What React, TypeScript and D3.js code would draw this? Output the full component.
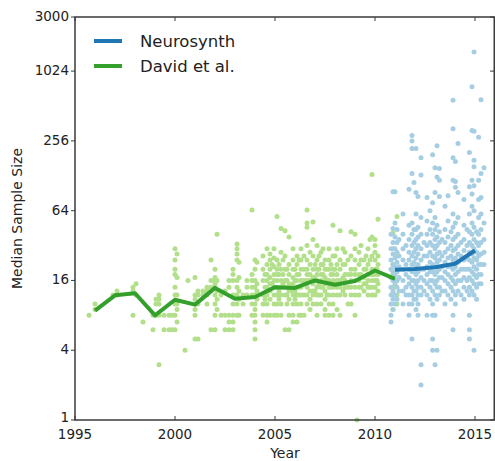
import React from "react";
import * as d3 from "d3";

// Median lines
const davidYears = [1996, 1997, 1998, 1999, 2000, 2001, 2002, 2003, 2004, 2005, 2006, 2007, 2008, 2009, 2010, 2011];
const davidMedians = [8.8, 11.9, 12.4, 8, 10.9, 9.9, 13.8, 11.1, 11.5, 14, 13.8, 16, 14.7, 15.8, 19.5, 16.5];
const neurosynthYears = [2011, 2012, 2013, 2014, 2015];
const neurosynthMedians = [19.8, 20.1, 20.8, 22.3, 29];

// Scatter: [publication time, sample sizes at that time]
const davidColumns: [number, number[]][] = [
  [1995.7, [8]],
  [1996.0, [10, 9]],
  [1996.9, [12]],
  [1997.1, [13, 12]],
  [1997.9, [8, 14, 13]],
  [1998.05, [15, 12]],
  [1998.4, [7]],
  [1998.9, [8, 6]],
  [1999.05, [8, 11, 10]],
  [1999.2, [3, 8, 10, 11, 12]],
  [1999.45, [6, 8]],
  [1999.7, [6, 8]],
  [1999.85, [6, 8]],
  [2000.0, [30, 24, 20, 18, 14, 12, 10, 8, 6]],
  [2000.1, [27, 17, 12, 10, 7, 9]],
  [2000.5, [4]],
  [2000.65, [16]],
  [2001.0, [17, 12, 11, 10, 9, 8, 5]],
  [2001.15, [12, 13, 10, 5]],
  [2001.4, [13, 12]],
  [2001.6, [14, 13, 12, 10]],
  [2001.8, [24, 16, 14, 6]],
  [2002.0, [20, 17, 16, 15, 14, 12, 10, 8, 6]],
  [2002.1, [40, 16, 13, 11, 9]],
  [2002.3, [8, 12]],
  [2002.5, [8, 6, 13]],
  [2002.7, [16, 14, 8, 7, 6]],
  [2002.9, [20, 18, 16, 12, 10, 8, 7, 6]],
  [2003.1, [33, 30, 27, 24, 16, 14, 12, 10, 8]],
  [2003.2, [23, 17, 13, 11, 8]],
  [2003.4, [12, 10]],
  [2003.6, [16, 14, 12]],
  [2003.85, [65, 18, 16, 14, 12, 10, 8]],
  [2004.0, [24, 20, 16, 14, 12, 10, 9, 8, 7, 6, 5]],
  [2004.1, [23, 15, 13, 11]],
  [2004.4, [26, 20, 16, 12, 10, 8]],
  [2004.5, [18, 14, 11]],
  [2004.6, [30, 22, 18, 16, 14, 12, 10, 8, 7]],
  [2004.75, [27, 24, 20, 17, 15, 13, 11, 8]],
  [2004.85, [22, 15]],
  [2004.95, [30, 25, 21, 18, 16, 14, 12, 10, 8]],
  [2005.1, [57, 24, 20, 18, 16, 14, 12, 10, 8]],
  [2005.2, [22, 18, 13, 11]],
  [2005.3, [45, 28, 20, 16, 14, 12, 10, 8]],
  [2005.4, [24, 18, 15]],
  [2005.5, [43, 26, 20, 16, 14, 12, 6]],
  [2005.6, [20, 16, 12, 10]],
  [2005.7, [38, 22, 18, 15, 13, 11, 8, 6]],
  [2005.9, [30, 24, 20, 17, 15, 13, 12, 10, 8, 7]],
  [2006.0, [20, 16, 13, 11]],
  [2006.1, [26, 22, 18, 16, 14, 12, 10, 7]],
  [2006.2, [24, 18, 14, 12, 8]],
  [2006.3, [30, 24, 20, 16, 14, 12, 10, 8]],
  [2006.45, [26, 20, 16, 12, 8]],
  [2006.6, [65, 50, 46, 32, 24, 20, 18, 16, 14, 12, 10]],
  [2006.75, [28, 22, 18, 16, 13, 11, 9]],
  [2006.9, [51, 36, 26, 20, 17, 15, 13, 12, 10]],
  [2007.0, [22, 17, 13]],
  [2007.1, [32, 24, 20, 18, 16, 14, 12, 10, 8]],
  [2007.2, [26, 20, 15, 12]],
  [2007.3, [28, 22, 18, 16, 14, 12, 10]],
  [2007.4, [30, 22, 18, 14]],
  [2007.5, [24, 20, 17, 15, 13, 11, 9, 8]],
  [2007.6, [20, 16, 12]],
  [2007.7, [30, 24, 20, 16, 14, 12, 10, 8]],
  [2007.8, [22, 18, 14]],
  [2007.9, [48, 26, 20, 18, 16, 14, 12, 10, 8]],
  [2008.0, [26, 20, 15]],
  [2008.1, [30, 22, 18, 16, 14, 12, 9]],
  [2008.25, [43, 24, 20, 16, 14, 12, 8]],
  [2008.4, [30, 22, 17, 13]],
  [2008.5, [28, 22, 18, 16, 14, 12]],
  [2008.65, [24, 18, 14, 10]],
  [2008.8, [42, 26, 20, 18, 16, 14, 12, 10]],
  [2009.0, [40, 30, 24, 20, 18, 16, 14, 12, 8]],
  [2009.1, [1]],
  [2009.2, [28, 22, 18, 16, 14, 12]],
  [2009.3, [32, 24, 18, 14]],
  [2009.45, [24, 20, 17, 15, 13]],
  [2009.55, [26, 20, 15]],
  [2009.65, [30, 22, 18, 16, 14, 12]],
  [2009.75, [36, 24, 18, 14]],
  [2009.85, [131, 38, 26, 20, 18, 16, 14, 12]],
  [2010.0, [36, 32, 28, 24, 20, 18, 16, 14, 12]],
  [2010.1, [20, 16]],
  [2010.15, [54, 26, 22, 18, 15, 13]],
  [2010.9, [41, 30, 22, 18, 14, 9]],
  [2011.1, [57, 27, 20, 16, 12, 10]],
];

const neurosynthColumns: [number, number[]][] = [
  [2010.8, [40, 30, 24, 20, 17, 14, 12, 10, 8, 7]],
  [2010.9, [93, 45, 34, 27, 22, 19, 16, 13, 11, 9]],
  [2011.0, [93, 50, 38, 30, 25, 21, 18, 15, 12, 10]],
  [2011.1, [44, 34, 28, 23, 19, 16, 14, 11]],
  [2011.2, [36, 26, 21, 17, 13]],
  [2011.4, [60, 40, 30, 24, 20, 16, 13, 10]],
  [2011.55, [32, 22, 18, 14, 12]],
  [2011.7, [98, 48, 36, 28, 24, 20, 17, 15, 12, 10, 8]],
  [2011.85, [285, 256, 220, 134, 50, 40, 32, 26, 22, 19, 16, 14, 12, 10, 5]],
  [2011.95, [112, 44, 34, 28, 23, 19, 16, 13, 11]],
  [2012.05, [220, 92, 60, 44, 36, 30, 25, 21, 18, 15, 13, 11, 9]],
  [2012.15, [85, 46, 38, 32, 27, 22, 19, 16, 14, 12, 10, 8]],
  [2012.3, [183, 130, 56, 40, 30, 24, 20, 17, 14, 12, 3, 2]],
  [2012.45, [34, 26, 20, 16, 13]],
  [2012.6, [83, 52, 40, 32, 26, 21, 18, 15, 12, 8]],
  [2012.75, [64, 44, 34, 28, 23, 19, 16, 14, 11]],
  [2012.88, [194, 75, 50, 40, 32, 26, 22, 19, 16, 13, 10, 8, 5, 4]],
  [2013.0, [150, 92, 56, 44, 36, 30, 25, 21, 18, 15, 12, 8, 3]],
  [2013.1, [232, 125, 48, 38, 32, 27, 23, 19, 16, 14, 11, 4]],
  [2013.22, [148, 117, 85, 42, 34, 28, 24, 20, 17, 14, 12]],
  [2013.35, [36, 26, 21, 17, 13]],
  [2013.5, [70, 44, 34, 28, 23, 19, 16, 13, 10]],
  [2013.65, [86, 52, 38, 30, 25, 21, 18, 15, 12]],
  [2013.8, [42, 32, 26, 21, 17, 14, 11]],
  [2013.9, [573, 325, 183, 117, 60, 46, 36, 29, 24, 20, 16, 13, 8, 6]],
  [2014.02, [170, 114, 102, 50, 38, 30, 25, 21, 18, 15, 12, 10]],
  [2014.15, [243, 92, 56, 40, 32, 27, 23, 19, 16, 13]],
  [2014.3, [34, 26, 20, 16, 12]],
  [2014.45, [80, 48, 36, 29, 24, 20, 17, 14, 11]],
  [2014.6, [44, 32, 25, 20, 16, 13]],
  [2014.72, [203, 103, 60, 42, 34, 28, 24, 20, 17, 14, 12, 8, 6, 5]],
  [2014.85, [750, 315, 117, 89, 70, 50, 40, 32, 27, 23, 19, 16, 13]],
  [2014.95, [1500, 310, 174, 153, 105, 64, 46, 36, 30, 25, 21, 18, 15, 12, 4]],
  [2015.08, [42, 34, 28, 24, 20, 17, 14, 11]],
  [2015.18, [275, 117, 80, 56, 40, 32, 26, 22, 18, 15]],
  [2015.3, [580, 134, 83, 60, 44, 34, 27, 22, 18, 15]],
  [2015.45, [150, 50, 36, 28, 22]],
];

const xTicks = [1995, 2000, 2005, 2010, 2015];
const yTicks = [1, 4, 16, 64, 256, 1024, 3000];
const seriesNames = ["Neurosynth", "David et al."];

const W = 495;
const H = 461;
const left = 75;
const right = 495;
const top = 17;
const bottom = 420;

const C_BLUE = "#1f78b4";
const C_GREEN = "#33a02c";
const C_LBLUE = "#a6cee3";
const C_LGREEN = "#b2df8a";
const AX = "#3a3a3a";
const FONT = "'DejaVu Sans', sans-serif";

export default function App() {
  const x = d3.scaleLinear().domain([1995, 2016]).range([left, right]);
  const y = d3.scaleLog().base(2).domain([1, 3000]).range([bottom, top]);

  const line = d3
    .line<[number, number]>()
    .x((d) => x(d[0]))
    .y((d) => y(d[1]));

  const flat = (cols: [number, number[]][]) =>
    cols.flatMap(([t, vs]) => vs.map((v) => [t, v] as [number, number]));
  const gPts = flat(davidColumns);
  const bPts = flat(neurosynthColumns);

  const gLine = davidYears.map((t, i) => [t, davidMedians[i]] as [number, number]);
  const bLine = neurosynthYears.map((t, i) => [t, neurosynthMedians[i]] as [number, number]);

  return (
    <svg
      width={W}
      height={H}
      style={{ position: "absolute", left: 0, top: 0, display: "block", background: "#fff" }}
      fontFamily={FONT}
    >
      <rect x={0} y={0} width={W} height={H} fill="#fff" />
      <g>
        {gPts.map((p, i) => (
          <circle key={"g" + i} cx={x(p[0])} cy={y(p[1])} r={2.5} fill={C_LGREEN} />
        ))}
        {bPts.map((p, i) => (
          <circle key={"b" + i} cx={x(p[0])} cy={y(p[1])} r={2.5} fill={C_LBLUE} />
        ))}
      </g>
      <path d={line(gLine) || ""} fill="none" stroke={C_GREEN} strokeWidth={4} strokeLinejoin="round" />
      <path d={line(bLine) || ""} fill="none" stroke={C_BLUE} strokeWidth={4} strokeLinejoin="round" />

      {/* frame */}
      <rect
        x={left}
        y={top}
        width={right - left - 0.75}
        height={bottom - top}
        fill="none"
        stroke={AX}
        strokeWidth={1.5}
      />
      {/* x ticks */}
      {xTicks.map((t) => (
        <g key={"xt" + t}>
          <line x1={x(t)} x2={x(t)} y1={bottom} y2={bottom - 4} stroke={AX} strokeWidth={1} />
          <line x1={x(t)} x2={x(t)} y1={top} y2={top + 4} stroke={AX} strokeWidth={1} />
          <text x={x(t)} y={439} textAnchor="middle" fontSize={13.5} fill="#222">
            {t}
          </text>
        </g>
      ))}
      {/* y ticks */}
      {yTicks.map((t) => (
        <g key={"yt" + t}>
          <line x1={left} x2={left - 4} y1={y(t)} y2={y(t)} stroke={AX} strokeWidth={1} />
          <line x1={right - 1} x2={right - 5} y1={y(t)} y2={y(t)} stroke={AX} strokeWidth={1} />
          <text
            x={left - 6}
            y={y(t)}
            dy={t === 1 ? "0.12em" : "0.3em"}
            textAnchor="end"
            fontSize={13.5}
            fill="#222"
          >
            {t}
          </text>
        </g>
      ))}
      <text x={(left + right) / 2} y={458} textAnchor="middle" fontSize={14} fill="#222">
        Year
      </text>
      <text
        transform={`translate(22, ${(top + bottom) / 2}) rotate(-90)`}
        textAnchor="middle"
        fontSize={14}
        fill="#222"
      >
        Median Sample Size
      </text>

      {/* legend */}
      {[C_BLUE, C_GREEN].map((c, i) => (
        <g key={"lg" + i}>
          <line x1={94} x2={122} y1={41 + i * 25} y2={41 + i * 25} stroke={c} strokeWidth={4} />
          <text x={140} y={41 + i * 25} dy="0.36em" fontSize={16.5} fill="#222">
            {seriesNames[i]}
          </text>
        </g>
      ))}
    </svg>
  );
}
